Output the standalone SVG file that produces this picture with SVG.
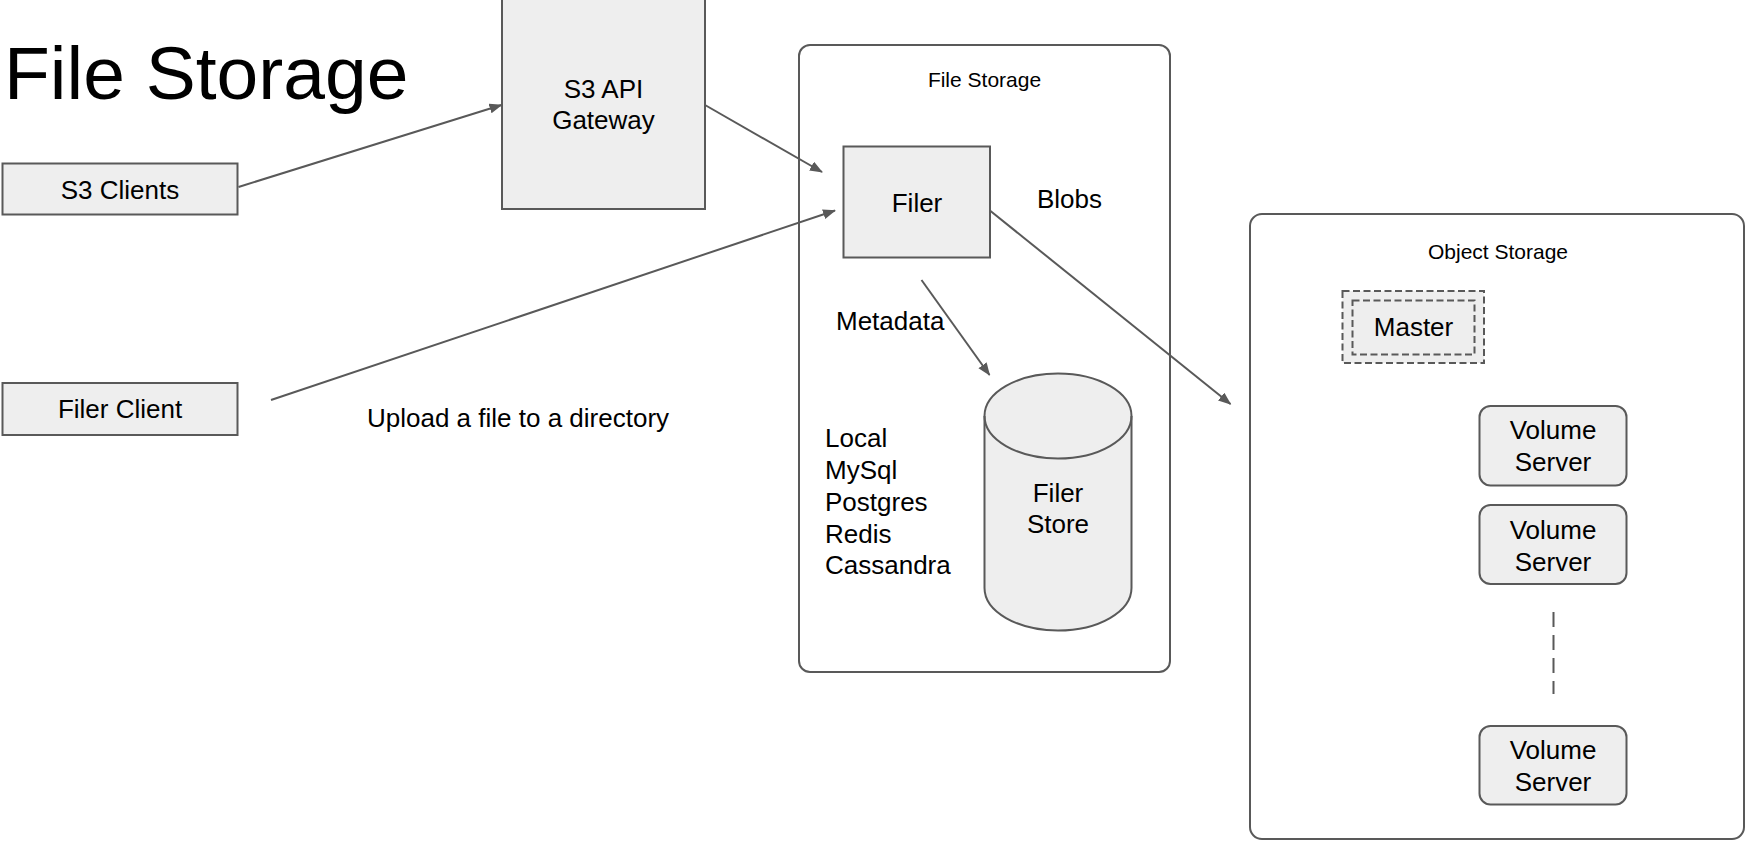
<svg xmlns="http://www.w3.org/2000/svg" width="1746" height="842" viewBox="0 0 1746 842">
<style>
text{font-family:"Liberation Sans",Arial,sans-serif;fill:#000}
.box{fill:#eeeeee;stroke:#595959;stroke-width:2}
.cont{fill:#fff;stroke:#595959;stroke-width:2}
.t26{font-size:26px}
.mid{text-anchor:middle}
.conn{stroke:#595959;stroke-width:2;fill:none}
.dash{stroke:#595959;stroke-width:2;fill:none;stroke-dasharray:7 3.5}
</style>
<defs>
<marker id="ah" markerUnits="userSpaceOnUse" markerWidth="14" markerHeight="12" refX="12" refY="5" orient="auto">
<path d="M0,0 L13,5 L0,10 z" fill="#595959"/>
</marker>
</defs>
<rect width="1746" height="842" fill="#fff"/>
<text id="title" x="4" y="99" font-size="75">File Storage</text>

<g id="file-storage">
<rect class="cont" x="799" y="45" width="371" height="627" rx="11"/>
<text x="984.5" y="87" font-size="21" class="mid">File Storage</text>
</g>
<g id="object-storage">
<rect class="cont" x="1250" y="214" width="494" height="625" rx="12"/>
<text x="1498" y="259" font-size="21" class="mid">Object Storage</text>
</g>

<g id="s3-clients">
<rect class="box" x="2.5" y="163.5" width="235" height="51"/>
<text x="120" y="199" class="t26 mid">S3 Clients</text>
</g>
<g id="filer-client">
<rect class="box" x="2.5" y="383" width="235" height="52"/>
<text x="120" y="418" class="t26 mid">Filer Client</text>
</g>
<g id="s3-gateway">
<rect class="box" x="502" y="-1" width="203" height="210"/>
<text x="603.5" y="98" class="t26 mid">S3 API</text>
<text x="603.5" y="129" class="t26 mid">Gateway</text>
</g>
<g id="filer">
<rect class="box" x="843.5" y="146.5" width="146.5" height="111"/>
<text x="917" y="212" class="t26 mid">Filer</text>
</g>
<g id="filer-store">
<path class="box" d="M984.5,416 A73.5,42.5 0 0 1 1131.5,416 L1131.5,588 A73.5,42.5 0 0 1 984.5,588 Z"/>
<path class="conn" d="M984.5,416 A73.5,42.5 0 0 0 1131.5,416"/>
<text x="1058" y="502" class="t26 mid">Filer</text>
<text x="1058" y="533" class="t26 mid">Store</text>
</g>
<g id="store-list">
<text x="825" y="447" class="t26">Local</text>
<text x="825" y="479" class="t26">MySql</text>
<text x="825" y="511" class="t26">Postgres</text>
<text x="825" y="543" class="t26">Redis</text>
<text x="825" y="574" class="t26">Cassandra</text>
</g>
<g id="labels">
<text x="1037" y="208" class="t26">Blobs</text>
<text x="836" y="330" class="t26">Metadata</text>
<text x="367" y="427" class="t26">Upload a file to a directory</text>
</g>
<g id="master">
<rect x="1342.5" y="291" width="141.5" height="72" fill="#eeeeee" stroke="none"/>
<rect class="dash" x="1342.5" y="291" width="141.5" height="72"/>
<rect class="dash" x="1352.5" y="300.5" width="122" height="54" fill="#fff"/>
<text x="1413.5" y="336" class="t26 mid">Master</text>
</g>
<g id="volume-server-1">
<rect class="box" x="1479.5" y="406" width="147" height="79.5" rx="11"/>
<text x="1553" y="439" class="t26 mid">Volume</text>
<text x="1553" y="471" class="t26 mid">Server</text>
</g>
<g id="volume-server-2">
<rect class="box" x="1479.5" y="505" width="147" height="79" rx="11"/>
<text x="1553" y="539" class="t26 mid">Volume</text>
<text x="1553" y="571" class="t26 mid">Server</text>
</g>
<g id="volume-server-3">
<rect class="box" x="1479.5" y="726" width="147" height="78.5" rx="11"/>
<text x="1553" y="759" class="t26 mid">Volume</text>
<text x="1553" y="791" class="t26 mid">Server</text>
</g>

<g id="connectors">
<line class="conn" x1="238.5" y1="187" x2="501.5" y2="105" marker-end="url(#ah)"/>
<line class="conn" x1="705" y1="105" x2="822" y2="172" marker-end="url(#ah)"/>
<line class="conn" x1="271" y1="400" x2="835" y2="210.5" marker-end="url(#ah)"/>
<line class="conn" x1="990.5" y1="211" x2="1230.5" y2="404" marker-end="url(#ah)"/>
<line class="conn" x1="921.5" y1="280" x2="989.5" y2="375" marker-end="url(#ah)"/>
<line class="dash" x1="1553.5" y1="612" x2="1553.5" y2="694" style="stroke-dasharray:15 8"/>
</g>
</svg>
